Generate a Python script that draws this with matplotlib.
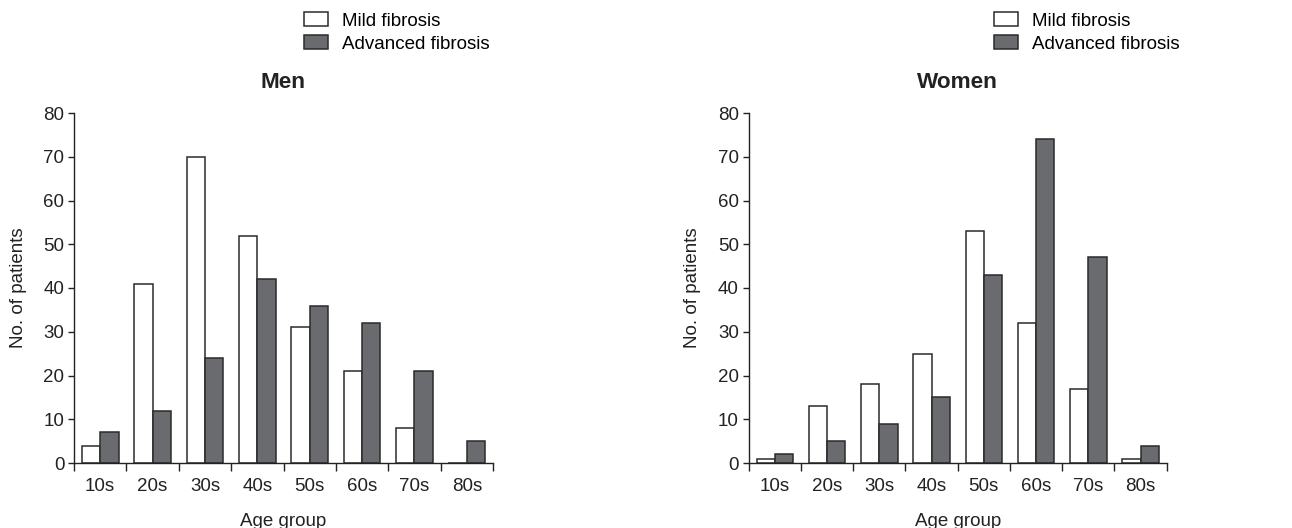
import numpy as np
import matplotlib
matplotlib.use("Agg")
import matplotlib.pyplot as plt
from matplotlib.ticker import FixedLocator, NullFormatter

plt.rcParams['font.family'] = ['Liberation Sans', 'DejaVu Sans']
plt.rcParams['font.size'] = 13.5

# Datos
grupos = ["10s", "20s", "30s", "40s", "50s", "60s", "70s", "80s"]
hombres_leve = [4, 41, 70, 52, 31, 21, 8, 0]
hombres_avanzada = [7, 12, 24, 42, 36, 32, 21, 5]
mujeres_leve = [1, 13, 18, 25, 53, 32, 17, 1]
mujeres_avanzada = [2, 5, 9, 15, 43, 74, 47, 4]

gris = "#6a6b6f"
borde = "#2b2b2b"

fig = plt.figure(figsize=(12.92, 5.28), dpi=100)
ax1 = fig.add_axes([74/1292, 65/528, 419/1292, 350/528])
ax2 = fig.add_axes([748.7/1292, 65/528, 418/1292, 350/528])


def dibuja(ax, leve, avanzada, titulo, leg_x):
    x = np.arange(len(grupos))
    w = 0.35
    ax.bar(x - w/2, leve, w, color="white", edgecolor=borde, linewidth=1.1,
           label="Mild fibrosis")
    ax.bar(x + w/2, avanzada, w, color=gris, edgecolor=borde, linewidth=1.1,
           label="Advanced fibrosis")
    ax.set_xlim(-0.5, len(grupos) - 0.5)
    ax.set_ylim(0, 80)
    ax.set_yticks(range(0, 81, 10))
    ax.set_xticks(x)
    ax.set_xticklabels(grupos)
    ax.xaxis.set_minor_locator(FixedLocator(np.arange(-0.5, len(grupos), 1.0)))
    ax.xaxis.set_minor_formatter(NullFormatter())
    ax.tick_params(axis="x", which="major", length=0, pad=11)
    ax.tick_params(axis="x", which="minor", length=5.5, width=1, color="#222222")
    ax.tick_params(axis="y", length=4, width=1, color="#222222", pad=3)
    ax.tick_params(colors="#222222", which="both")
    for s in ["top", "right"]:
        ax.spines[s].set_visible(False)
    for s in ["left", "bottom"]:
        ax.spines[s].set_color("#222222")
        ax.spines[s].set_linewidth(1)
    ax.set_ylabel("No. of patients", labelpad=12, color="#222222")
    ax.set_xlabel("Age group", labelpad=13, color="#222222")
    ax.set_title(titulo, fontweight="bold", pad=18, color="#222222")
    ax.legend(loc="upper left", bbox_to_anchor=(leg_x / 1292, 1 - 12 / 528),
              bbox_transform=fig.transFigure, frameon=False, borderpad=0,
              handlelength=1.3, handleheight=0.8, handletextpad=0.75,
              labelspacing=0.28, borderaxespad=0)


dibuja(ax1, hombres_leve, hombres_avanzada, "Men", 304)
dibuja(ax2, mujeres_leve, mujeres_avanzada, "Women", 993.7)

fig.savefig("out.png", dpi=100)
